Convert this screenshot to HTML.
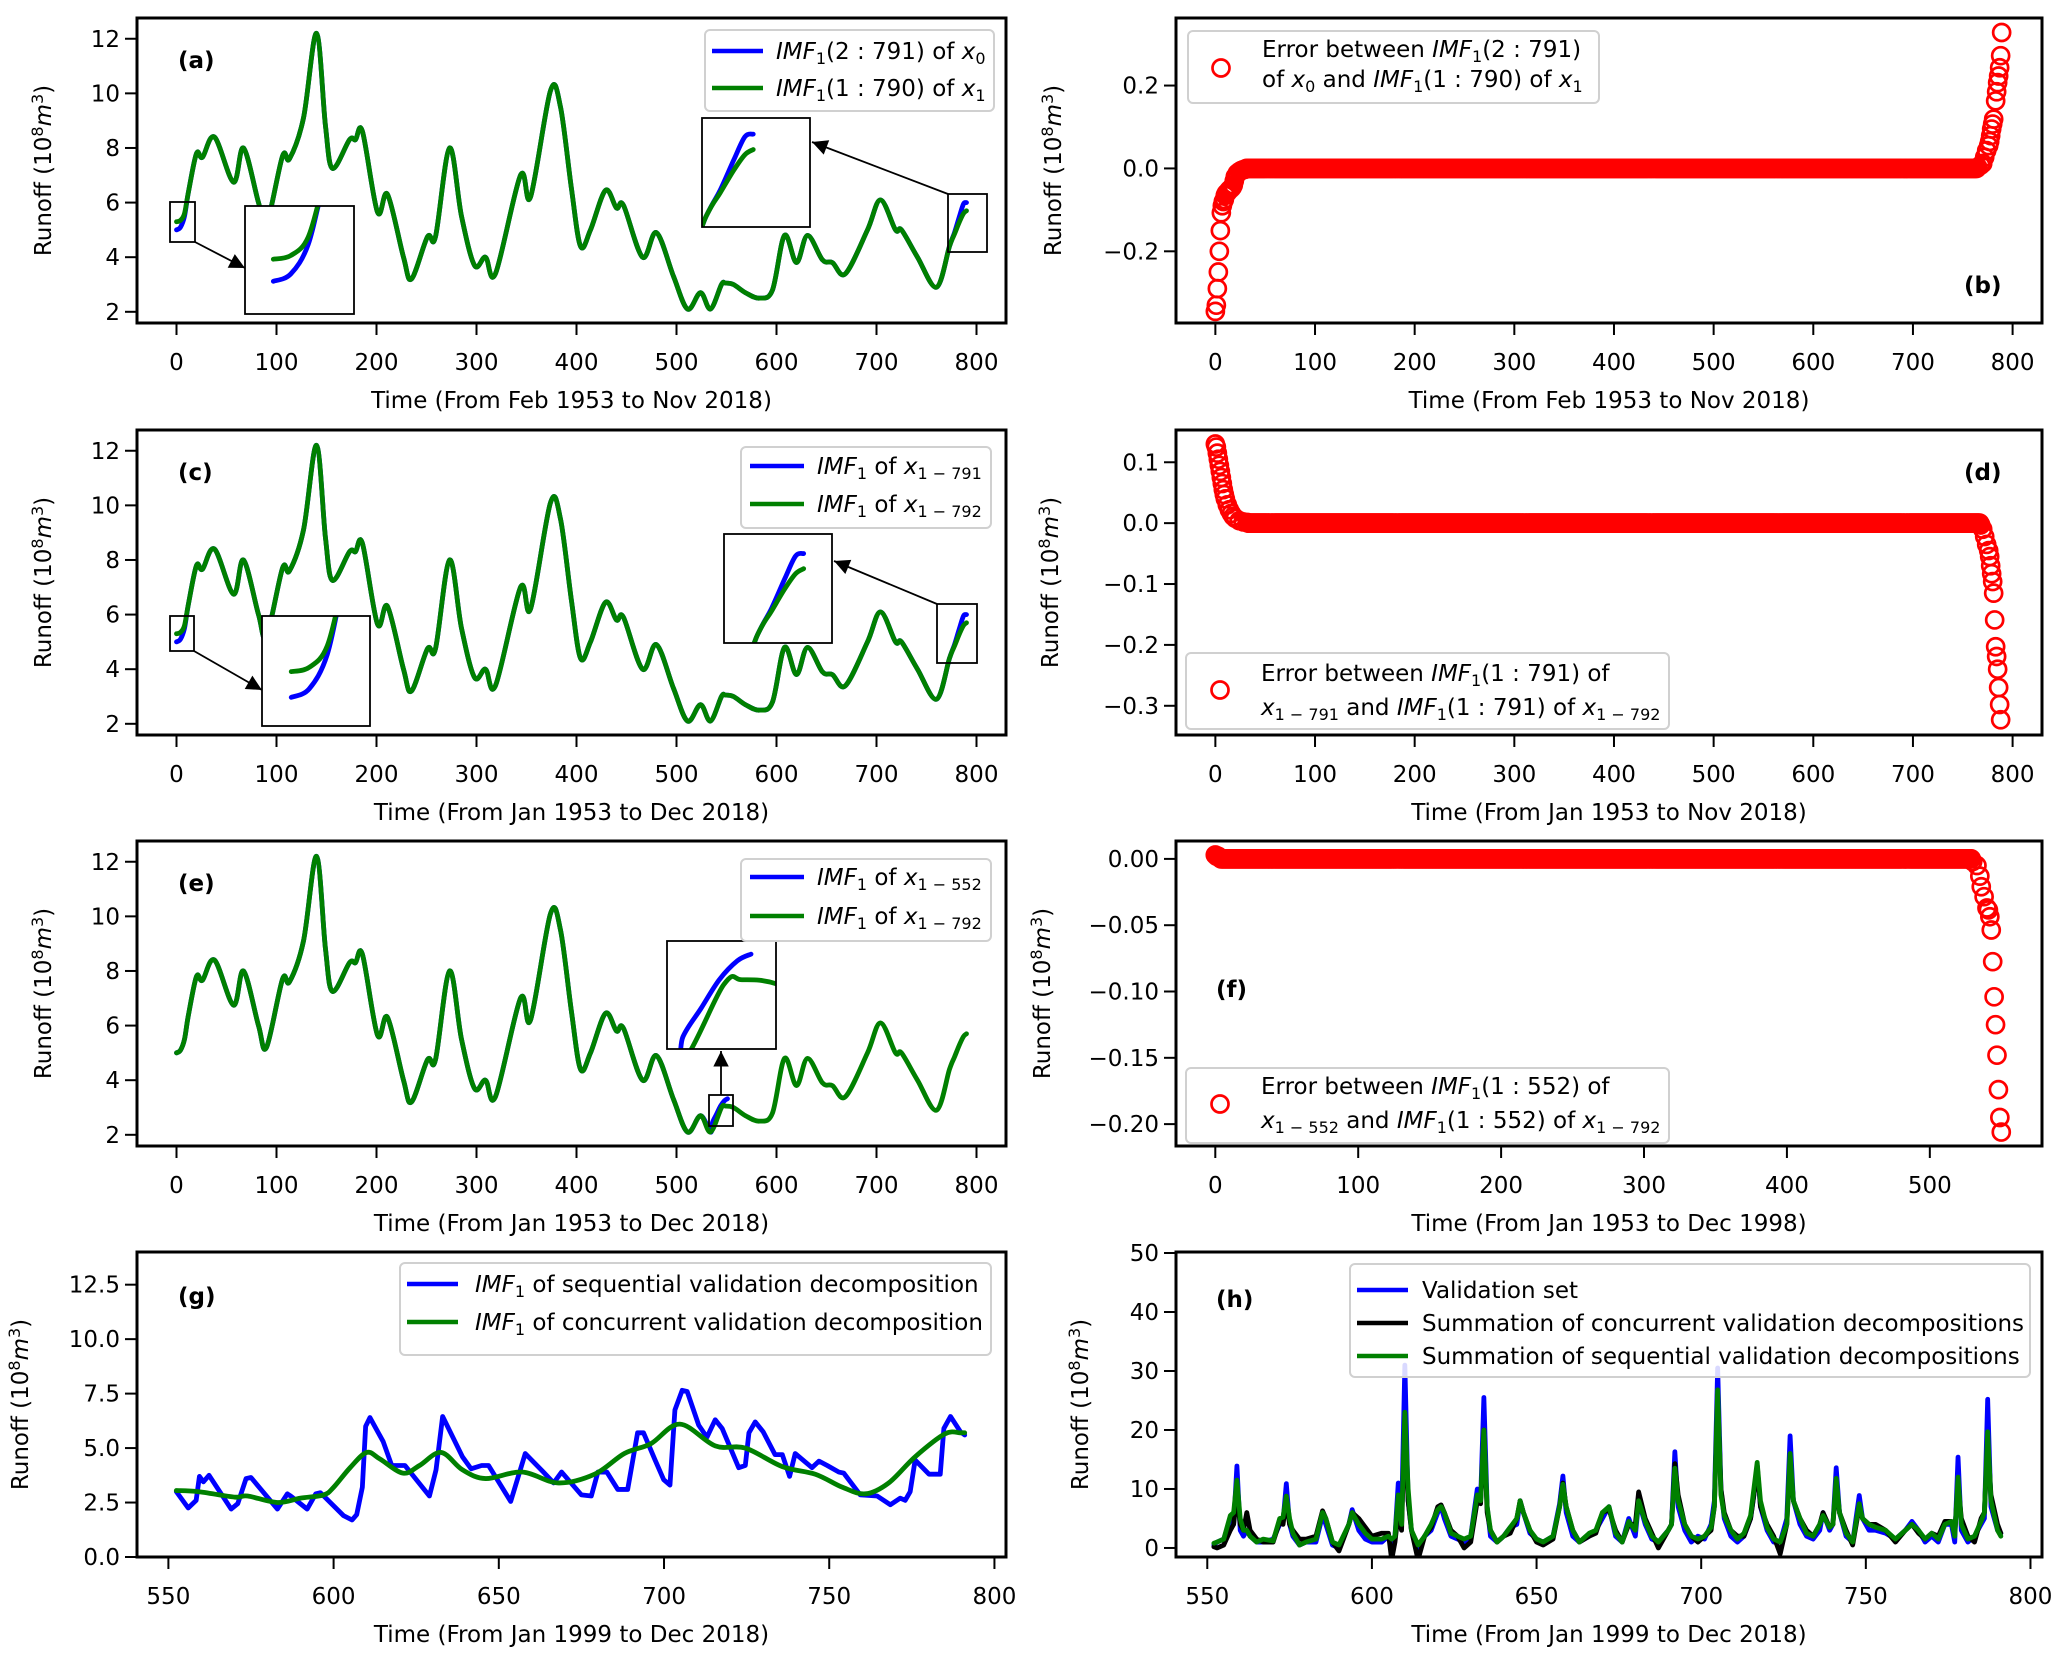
<!DOCTYPE html>
<html><head><meta charset="utf-8"><title>IMF decomposition comparison</title>
<style>
html,body{margin:0;padding:0;background:#fff;}
svg{display:block;font-family:"DejaVu Sans","Liberation Sans",sans-serif;}
.tk{font-size:23px;fill:#000;}
.lg{font-size:23px;fill:#000;}
.it{font-style:italic;}
.tag{font-size:23px;font-weight:bold;fill:#000;}
</style></head>
<body>
<svg id="fig" width="2067" height="1661" viewBox="0 0 2067 1661" xmlns="http://www.w3.org/2000/svg">
<defs>
<marker id="ah" viewBox="0 0 10 10" refX="10" refY="5" markerWidth="7" markerHeight="7" orient="auto-start-reverse" markerUnits="userSpaceOnUse" style="overflow:visible">
<path d="M0,0 L10,5 L0,10 z" fill="#000" transform="scale(2.2) translate(-5.5,-2.7)"/>
</marker>
</defs>
<g id="plots"></g>
<g id="overlay">
<line x1="195" y1="242" x2="245" y2="268" stroke="#000" stroke-width="1.8" marker-end="url(#ah)"/>
<line x1="948" y1="194" x2="812" y2="142" stroke="#000" stroke-width="1.8" marker-end="url(#ah)"/>
<line x1="194" y1="651" x2="262" y2="690" stroke="#000" stroke-width="1.8" marker-end="url(#ah)"/>
<line x1="937" y1="604" x2="834" y2="561" stroke="#000" stroke-width="1.8" marker-end="url(#ah)"/>
<line x1="721" y1="1095" x2="721" y2="1051" stroke="#000" stroke-width="1.8" marker-end="url(#ah)"/>

<g>
<rect x="705" y="30" width="289" height="81" rx="5" fill="#fff" fill-opacity="0.85" stroke="#d0d0d0" stroke-width="2"/>
<line x1="712" y1="51" x2="763" y2="51" stroke="#0000ff" stroke-width="4.5"/>
<line x1="712" y1="88" x2="763" y2="88" stroke="#008000" stroke-width="4.5"/>
<text class="lg" x="776" y="59"><tspan class="it">IMF</tspan><tspan dy="5" font-size="16">1</tspan><tspan dy="-5">(2 : 791) of </tspan><tspan class="it">x</tspan><tspan dy="5" font-size="16">0</tspan></text>
<text class="lg" x="776" y="96"><tspan class="it">IMF</tspan><tspan dy="5" font-size="16">1</tspan><tspan dy="-5">(1 : 790) of </tspan><tspan class="it">x</tspan><tspan dy="5" font-size="16">1</tspan></text>
</g>
<g>
<rect x="1188" y="31" width="411" height="72" rx="5" fill="#fff" fill-opacity="0.85" stroke="#d0d0d0" stroke-width="2"/>
<circle cx="1221" cy="68" r="8.5" fill="none" stroke="#ff0000" stroke-width="2.7"/>
<text class="lg" x="1262" y="57">Error between  <tspan class="it">IMF</tspan><tspan dy="5" font-size="16">1</tspan><tspan dy="-5">(2 : 791)</tspan></text>
<text class="lg" x="1262" y="87">of <tspan class="it">x</tspan><tspan dy="5" font-size="16">0</tspan><tspan dy="-5"> and  </tspan><tspan class="it">IMF</tspan><tspan dy="5" font-size="16">1</tspan><tspan dy="-5">(1 : 790) of </tspan><tspan class="it">x</tspan><tspan dy="5" font-size="16">1</tspan></text>
</g>
<g>
<rect x="741" y="447" width="250" height="81" rx="5" fill="#fff" fill-opacity="0.85" stroke="#d0d0d0" stroke-width="2"/>
<line x1="750" y1="466" x2="804" y2="466" stroke="#0000ff" stroke-width="4.5"/>
<line x1="750" y1="504" x2="804" y2="504" stroke="#008000" stroke-width="4.5"/>
<text class="lg" x="817" y="474"><tspan class="it">IMF</tspan><tspan dy="5" font-size="16">1</tspan><tspan dy="-5"> of </tspan><tspan class="it">x</tspan><tspan dy="5" font-size="16">1 − 791</tspan></text>
<text class="lg" x="817" y="512"><tspan class="it">IMF</tspan><tspan dy="5" font-size="16">1</tspan><tspan dy="-5"> of </tspan><tspan class="it">x</tspan><tspan dy="5" font-size="16">1 − 792</tspan></text>
</g>
<g>
<rect x="1186" y="653" width="483" height="76" rx="5" fill="#fff" fill-opacity="0.85" stroke="#d0d0d0" stroke-width="2"/>
<circle cx="1220" cy="690" r="8.5" fill="none" stroke="#ff0000" stroke-width="2.7"/>
<text class="lg" x="1261" y="681">Error between  <tspan class="it">IMF</tspan><tspan dy="5" font-size="16">1</tspan><tspan dy="-5">(1 : 791) of</tspan></text>
<text class="lg" x="1261" y="715"><tspan class="it">x</tspan><tspan dy="5" font-size="16">1 − 791</tspan><tspan dy="-5"> and  </tspan><tspan class="it">IMF</tspan><tspan dy="5" font-size="16">1</tspan><tspan dy="-5">(1 : 791) of </tspan><tspan class="it">x</tspan><tspan dy="5" font-size="16">1 − 792</tspan></text>
</g>
<g>
<rect x="741" y="859" width="250" height="82" rx="5" fill="#fff" fill-opacity="0.85" stroke="#d0d0d0" stroke-width="2"/>
<line x1="750" y1="877" x2="804" y2="877" stroke="#0000ff" stroke-width="4.5"/>
<line x1="750" y1="916" x2="804" y2="916" stroke="#008000" stroke-width="4.5"/>
<text class="lg" x="817" y="885"><tspan class="it">IMF</tspan><tspan dy="5" font-size="16">1</tspan><tspan dy="-5"> of </tspan><tspan class="it">x</tspan><tspan dy="5" font-size="16">1 − 552</tspan></text>
<text class="lg" x="817" y="924"><tspan class="it">IMF</tspan><tspan dy="5" font-size="16">1</tspan><tspan dy="-5"> of </tspan><tspan class="it">x</tspan><tspan dy="5" font-size="16">1 − 792</tspan></text>
</g>
<g>
<rect x="1186" y="1068" width="483" height="75" rx="5" fill="#fff" fill-opacity="0.85" stroke="#d0d0d0" stroke-width="2"/>
<circle cx="1220" cy="1104" r="8.5" fill="none" stroke="#ff0000" stroke-width="2.7"/>
<text class="lg" x="1261" y="1094">Error between  <tspan class="it">IMF</tspan><tspan dy="5" font-size="16">1</tspan><tspan dy="-5">(1 : 552) of</tspan></text>
<text class="lg" x="1261" y="1128"><tspan class="it">x</tspan><tspan dy="5" font-size="16">1 − 552</tspan><tspan dy="-5"> and  </tspan><tspan class="it">IMF</tspan><tspan dy="5" font-size="16">1</tspan><tspan dy="-5">(1 : 552) of </tspan><tspan class="it">x</tspan><tspan dy="5" font-size="16">1 − 792</tspan></text>
</g>
<g>
<rect x="400" y="1263" width="591" height="92" rx="5" fill="#fff" fill-opacity="0.85" stroke="#d0d0d0" stroke-width="2"/>
<line x1="407" y1="1284" x2="458" y2="1284" stroke="#0000ff" stroke-width="4.5"/>
<line x1="407" y1="1322" x2="458" y2="1322" stroke="#008000" stroke-width="4.5"/>
<text class="lg" x="475" y="1292"><tspan class="it">IMF</tspan><tspan dy="5" font-size="16">1</tspan><tspan dy="-5"> of sequential validation decomposition</tspan></text>
<text class="lg" x="475" y="1330"><tspan class="it">IMF</tspan><tspan dy="5" font-size="16">1</tspan><tspan dy="-5"> of concurrent validation decomposition</tspan></text>
</g>
<g>
<rect x="1350" y="1264" width="680" height="113" rx="5" fill="#fff" fill-opacity="0.85" stroke="#d0d0d0" stroke-width="2"/>
<line x1="1357" y1="1290" x2="1408" y2="1290" stroke="#0000ff" stroke-width="4.5"/>
<line x1="1357" y1="1323" x2="1408" y2="1323" stroke="#000" stroke-width="4.5"/>
<line x1="1357" y1="1356" x2="1408" y2="1356" stroke="#008000" stroke-width="4.5"/>
<text class="lg" x="1422" y="1298">Validation set</text>
<text class="lg" x="1422" y="1331">Summation of concurrent validation decompositions</text>
<text class="lg" x="1422" y="1364">Summation of sequential validation decompositions</text>
</g>
</g>
</svg>
<script>
// ---------------- data ----------------
const mainT = [12,20,26,38,57,67,82,90,106,113,127,140,149,156,173,179,186,201,211,227,235,251,259,273,285,298,309,319,344,354,374,384,395,404,414,429,440,447,466,480,497,511,524,534,545,549,557,569,583,596,608,620,631,646,656,669,691,704,719,725,741,760,773];
const mainV = [6.4,7.8,7.66,8.4,6.75,8.0,6.0,5.2,7.7,7.6,9.1,12.2,8.8,7.25,8.3,8.3,8.6,5.65,6.3,4.0,3.2,4.75,4.75,8.0,5.5,3.7,4.0,3.4,7.0,6.2,10.1,9.5,6.5,4.4,5.0,6.45,5.8,5.9,4.0,4.9,3.3,2.1,2.7,2.1,3.0,3.05,3.0,2.7,2.5,2.8,4.8,3.8,4.8,3.9,3.8,3.4,5.0,6.1,5.0,5.0,4.0,2.9,4.4];
const headT = [0,4,8];
const blueHeadV = [5.0,5.1,5.5];
const greenHeadV = [5.3,5.35,5.6];
const tailT = [778,783,787,790];
const blueTailV = [4.9,5.5,5.95,6.0];
const greenTailV = [4.85,5.3,5.6,5.7];
const eBlueTailT = [536,540,544,548,551];
const eBlueTailV = [2.45,2.75,3.05,3.25,3.32];

const gBlueT = [552.4,556,558.4,559.4,560.6,562.3,569,571,573.5,575,583,586,587,592,594.6,596,603,605.6,607,608.7,609.7,611,615,617.6,621.6,629,631,633,639,641.6,644.8,646.9,653.6,658,663.5,666.6,669,675,678,680,682.7,686,689,692,693.8,697.3,699.9,701.8,703.3,705.5,707,710.5,713,715.5,717.6,722.6,724.6,725.7,727.6,730,733.6,735.8,738,739.7,744.8,746.9,749.4,752.9,754.4,759.4,764.5,768.5,771.5,773,774.5,776,780.2,783.6,784.7,786.7,789.7,791];
const gBlueV = [3.0,2.25,2.6,3.7,3.45,3.75,2.2,2.45,3.6,3.65,2.2,2.9,2.8,2.2,2.9,2.95,1.9,1.7,1.95,3.2,6.0,6.4,5.3,4.2,4.2,2.8,4.0,6.45,4.6,4.05,4.2,4.2,2.55,4.75,3.9,3.4,3.9,2.85,2.8,3.9,3.9,3.1,3.1,5.7,5.7,4.45,3.55,3.3,6.75,7.65,7.6,6.05,5.5,6.3,5.9,4.1,4.2,5.7,6.2,5.75,4.7,4.7,3.7,4.75,4.1,4.4,4.2,3.9,3.85,2.85,2.8,2.4,2.7,2.6,3.0,4.45,3.8,3.8,5.9,6.45,5.75,5.6];
const gGreenT = [552.4,559,570,574,583,590,597,600,605,610,614,621,626,632.5,639,646,657,668,679,688,696,704.8,715.5,724.6,735.8,745.8,754,761,768,776,785,789.7,791];
const gGreenV = [3.05,3.0,2.75,2.8,2.5,2.7,2.85,3.2,4.1,4.8,4.5,3.85,4.2,4.8,4.0,3.6,3.9,3.4,3.8,4.75,5.2,6.1,5.1,5.0,4.15,3.8,3.2,2.9,3.4,4.6,5.65,5.7,5.7];

const hT = [552,553,555,557,558,559,560,561,562,563,565,567,570,572,573,574,575,576,578,580,583,585,586,588,590,593,594,596,598,600,603,605,606,607,608,609,610,611,612,614,616,618,620,621,622,624,626,628,630,632,633,634,635,636,638,640,642,644,645,646,648,650,652,655,657,658,659,661,663,666,668,670,672,674,676,678,680,681,683,685,687,690,691,692,693,695,697,699,701,703,704,705,706,707,709,711,713,715,716,717,718,720,722,724,726,727,728,730,732,734,736,737,739,740,741,742,744,746,748,749,751,753,756,759,762,764,766,768,770,772,774,776,777,778,779,781,783,785,786,787,788,790,791];
const hBlue = [0.5,1,1.5,5,4,13.9,3,2,3,2,1,1,1.5,4,4.5,10.9,4,2,0.5,1,1,5.5,4,0.5,0,4,6.5,3,1.5,1,1,2,1,2,11,5,31,8,3,0,2,3,6,7,5,2,1.5,1,2,10,8,25.5,7,2,1,2,3.5,4,8,6,2.5,1.5,1,2,7.5,12.2,6,2,1,2,3,5,7,2,1,5,2,8,4,1.5,1,3,4,16.3,7,3,1,2,1.5,4,8,30.5,10,5,2,1,2,5,9,14,7,3,1,1,5,19,8,4,2,1.5,3,6,3,4,13.6,6,2,1,8.9,5,3,3,2.5,1.5,3,4.5,3,1,2,1,4,4,1,15.4,3,1,2,4,5,25.2,7,3,2.5];
const hBlack = [0.2,0,0.5,3,4,9,4,3,6,3,1.5,1,1,4.5,4,8,4,3,1.5,1.5,2,6.3,5,1,-0.5,4,6,5,3.5,2,2.5,2.5,-2,1,6,3,22,8,3,-2,2,3.5,7,7.3,6,3,2,0,1,8,7.5,20,6,3,1,2,2.5,5,8,6,3,1,0.5,1.5,7,11,7,3,1,2,2.5,6,6.5,3,1,4,4,9.5,5,2.5,0,3,4,14.3,9,4,2,1,2,3,7,26,10,6,3,2,2,5,9,14,7,4,2,-1,4,15,8,5,3,2,4,6,3.5,4,11,6,3,0.5,7,5,4,4,3,1,3,4,2.5,1.5,2.5,2,4.5,4.5,2.5,11,5,2,1,5,6,18,9,4,2.5];
const hGreen = [0.8,1,1.5,5.5,6,11.5,5,3,3,2,1,1.5,1.2,5,5.2,8.8,5,2.5,0.5,1,1.5,6,5,1,0.5,4,6,4,2.5,1.5,1.5,2,1.5,2,9,4,23,10,3,0.5,2,4,6.5,7,6,2.5,2,1.5,2,9,8,20,7,3,1,2,3.5,5,8,6,3,1.5,1,2,7,10.8,7,3,1,2.5,3,6,7,2.5,1,4.5,3,8,4.5,2,1,3,4,13.5,8,4,2,1.5,2,3.5,7,26.8,9,5.5,3,1.5,2.5,5.5,10,14.5,8,3.5,1.5,1,4,16,8,5,2.5,2,4,5.5,3.5,4,11.8,6,2.5,1,7.5,5,4,3.5,3,1.5,3,4,3,1.5,2.5,1.5,4,4.5,2,12,4,1.5,2,4.5,6,19.7,8,3,2];

const errBHeadT = [0,1,2,3,4,5,6,7,8,9,10,11,12,13,14,15,16,17,18,19,20,22,24,26,28,30];
const errBHeadV = [-0.345,-0.33,-0.29,-0.25,-0.20,-0.15,-0.107,-0.09,-0.08,-0.075,-0.065,-0.06,-0.058,-0.055,-0.052,-0.05,-0.048,-0.045,-0.04,-0.03,-0.02,-0.012,-0.008,-0.005,-0.003,-0.002];
const errBTailT = [765,768,770,772,774,776,777,778,779,780,781,783,784,785,786,787,788,789];
const errBTailV = [0.003,0.008,0.012,0.027,0.043,0.055,0.065,0.079,0.095,0.107,0.119,0.163,0.185,0.207,0.223,0.243,0.272,0.328];
const errBFlat = 0.0;
const errBFlatRange = [31,764];

const errDHeadT = [0,1,2,3,4,5,6,7,8,9,10,12,14,16,18,20,24,28,32];
const errDHeadV = [0.13,0.125,0.115,0.105,0.095,0.085,0.075,0.065,0.055,0.047,0.04,0.03,0.022,0.016,0.011,0.008,0.004,0.002,0.001];
const errDTailT = [768,770,772,774,776,777,778,779,780,781,782,783,784,785,786,787,788];
const errDTailV = [-0.003,-0.01,-0.022,-0.035,-0.045,-0.055,-0.07,-0.083,-0.096,-0.115,-0.159,-0.203,-0.219,-0.24,-0.27,-0.298,-0.323];
const errDFlat = 0.0;
const errDFlatRange = [33,767];

const errFHeadT = [0,1,2,3];
const errFHeadV = [0.003,0.002,0.002,0.001];
const errFTailT = [530,533,535,536,538,540,541,542,543,544,545,546,547,548,549,550];
const errFTailV = [-0.002,-0.005,-0.013,-0.021,-0.0285,-0.037,-0.0385,-0.0436,-0.0536,-0.0775,-0.104,-0.125,-0.148,-0.174,-0.195,-0.206];
const errFFlat = 0.0;
const errFFlatRange = [4,529];

const ticksMainX = [0,100,200,300,400,500,600,700,800];
const ticksMainY = [2,4,6,8,10,12];
const ticksBY = [-0.2,0.0,0.2];
const ticksDY = [-0.3,-0.2,-0.1,0.0,0.1];
const ticksFX = [0,100,200,300,400,500];
const ticksFY = [-0.20,-0.15,-0.10,-0.05,0.00];
const ticksGX = [550,600,650,700,750,800];
const ticksGY = [0,2.5,5,7.5,10,12.5];
const ticksHY = [0,10,20,30,40,50];

// ---------------- drawing ----------------
const NS = 'http://www.w3.org/2000/svg';
const plots = document.getElementById('plots');
function mk(tag, parent){ const e = document.createElementNS(NS, tag); parent.appendChild(e); return e; }
function setA(e, o){ for (const k in o) e.setAttribute(k, o[k]); return e; }
function fmt(v, d){ return (v < 0 ? '\u2212' : '') + Math.abs(v).toFixed(d); }

const LEFT = {x:137, w:869}, RIGHT = {x:1176, w:866};
const ROWS = [18, 430, 841, 1252], PH = 305;
let clipN = 0;

function axes(name, col, row, xlim, ylim) {
  const bx = col.x, bw = col.w, by = ROWS[row], bh = PH;
  const g = mk('g', plots);
  
  
  const sx = v => bx + (v - xlim[0]) / (xlim[1] - xlim[0]) * bw;
  const sy = v => by + bh - (v - ylim[0]) / (ylim[1] - ylim[0]) * bh;
  const cid = 'clip' + (clipN++);
  const cp = mk('clipPath', g); cp.setAttribute('id', cid);
  setA(mk('rect', cp), {x:bx, y:by, width:bw, height:bh});
  const data = mk('g', g); data.setAttribute('clip-path', 'url(#' + cid + ')');
  return {g, data, sx, sy, bx, bw, by, bh, xlim, ylim};
}

function frame(A, xt, xd, yt, yd, xlabel, ylabelX, tag, tagX, tagY) {
  const f = mk('rect', A.g);
  setA(f, {x:A.bx, y:A.by, width:A.bw, height:A.bh, fill:'none', stroke:'#000', 'stroke-width':3});
  
  
  xt.forEach(v => {
    const x = A.sx(v);
    setA(mk('line', A.g), {x1:x, x2:x, y1:A.by + A.bh, y2:A.by + A.bh + 12, stroke:'#000', 'stroke-width':2});
    const t = mk('text', A.g);
    setA(t, {x:x, y:A.by + A.bh + 47, 'text-anchor':'middle', class:'tk'});
    t.textContent = fmt(v, xd);
    
    
  });
  yt.forEach(v => {
    const y = A.sy(v);
    setA(mk('line', A.g), {x1:A.bx - 12, x2:A.bx, y1:y, y2:y, stroke:'#000', 'stroke-width':2});
    const t = mk('text', A.g);
    setA(t, {x:A.bx - 17, y:y + 8, 'text-anchor':'end', class:'tk'});
    t.textContent = fmt(v, yd);
    
    
  });
  const xl = mk('text', A.g);
  setA(xl, {x:A.bx + A.bw / 2, y:A.by + A.bh + 85, 'text-anchor':'middle', class:'tk'});
  xl.textContent = xlabel;
  
  
  const yl = mk('text', A.g);
  const cy = A.by + A.bh / 2;
  setA(yl, {x:ylabelX, y:cy, 'text-anchor':'middle', class:'tk', transform:'rotate(-90 ' + ylabelX + ' ' + cy + ')'});
  yl.innerHTML = 'Runoff  (10<tspan dy="-8" font-size="16">8</tspan><tspan dy="8" font-style="italic">m</tspan><tspan dy="-8" font-size="16">3</tspan><tspan dy="8">)</tspan>';
  
  
  const tg = mk('text', A.g);
  setA(tg, {x:tagX, y:tagY, class:'tag'});
  tg.textContent = tag;
  
  
}

function smoothPath(pts) {
  if (pts.length < 2) return '';
  let d = 'M' + pts[0][0].toFixed(2) + ',' + pts[0][1].toFixed(2);
  for (let i = 0; i < pts.length - 1; i++) {
    const p0 = pts[Math.max(0, i - 1)], p1 = pts[i], p2 = pts[i + 1], p3 = pts[Math.min(pts.length - 1, i + 2)];
    const c1 = [p1[0] + (p2[0] - p0[0]) / 6, p1[1] + (p2[1] - p0[1]) / 6];
    const c2 = [p2[0] - (p3[0] - p1[0]) / 6, p2[1] - (p3[1] - p1[1]) / 6];
    d += 'C' + c1[0].toFixed(2) + ',' + c1[1].toFixed(2) + ' ' + c2[0].toFixed(2) + ',' + c2[1].toFixed(2) + ' ' + p2[0].toFixed(2) + ',' + p2[1].toFixed(2);
  }
  return d;
}
function linePath(pts) { return pts.map((p, i) => (i ? 'L' : 'M') + p[0].toFixed(2) + ',' + p[1].toFixed(2)).join(''); }

function series(ts, vs) { return ts.map((t, i) => [t, vs[i]]); }
function mainSeries(headV, tailV, tEnd) {
  let pts = series(headT, headV).concat(series(mainT, mainV));
  if (tailV) pts = pts.concat(series(tailT, tailV));
  if (tEnd !== undefined) pts = pts.filter(p => p[0] < tEnd);
  return pts;
}
function drawCurve(A, parent, pts, color, name, smooth, w) {
  const p = mk('path', parent);
  const px = pts.map(q => [A.sx(q[0]), A.sy(q[1])]);
  setA(p, {d: smooth ? smoothPath(px) : linePath(px), fill:'none', stroke:color, 'stroke-width':w || 4.8, 'stroke-linejoin':'round', 'stroke-linecap':'round', 'vector-effect':'non-scaling-stroke'});
  
  
  return p;
}
function inset(A, src, dst, draws, name) {
  const r = mk('rect', A.g);
  setA(r, {x:src[0], y:src[1], width:src[2], height:src[3], fill:'none', stroke:'#000', 'stroke-width':1.8});
  
  
  const ig = mk('g', A.g);
  
  
  setA(mk('rect', ig), {x:dst[0], y:dst[1], width:dst[2], height:dst[3], fill:'#fff'});
  const cid = 'clip' + (clipN++);
  const cp = mk('clipPath', ig); cp.setAttribute('id', cid);
  setA(mk('rect', cp), {x:src[0], y:src[1], width:src[2], height:src[3]});
  const tg = mk('g', ig);
  const kx = dst[2] / src[2], ky = dst[3] / src[3];
  tg.setAttribute('transform', 'translate(' + dst[0] + ',' + dst[1] + ') scale(' + kx + ',' + ky + ') translate(' + (-src[0]) + ',' + (-src[1]) + ')');
  const cg = mk('g', tg); cg.setAttribute('clip-path', 'url(#' + cid + ')');
  draws.forEach(d => drawCurve(A, cg, d[0], d[1], 'inset-curve', true, 4.8));
  setA(mk('rect', ig), {x:dst[0], y:dst[1], width:dst[2], height:dst[3], fill:'none', stroke:'#000', 'stroke-width':1.8});
}
function scatter(A, pts, name) {
  const sg = mk('g', A.data);
  
  
  pts.forEach(p => {
    const c = mk('circle', sg);
    setA(c, {cx:A.sx(p[0]), cy:A.sy(p[1]), r:8.5, fill:'none', stroke:'#ff0000', 'stroke-width':2.7});
  });
}
function errSeries(hT_, hV, flat, range, tT, tV) {
  let pts = series(hT_, hV);
  for (let t = range[0]; t <= range[1]; t++) pts.push([t, flat]);
  return pts.concat(series(tT, tV));
}

const MX = [-39.5, 829.5], MY = [1.59, 12.76];

let A = axes('panel-a', LEFT, 0, MX, MY);
let aB = mainSeries(blueHeadV, blueTailV), aG = mainSeries(greenHeadV, greenTailV);
drawCurve(A, A.data, aB, '#0000ff', 'series-imf1-x0', true);
drawCurve(A, A.data, aG, '#008000', 'series-imf1-x1', true);
frame(A, ticksMainX, 0, ticksMainY, 0, 'Time (From Feb 1953 to Nov 2018)', 51, '(a)', 178, 68);
inset(A, [170,202,25,40], [245,206,109,108], [[aB,'#0000ff'],[aG,'#008000']], 'inset-a-start');
inset(A, [948,194,39,58], [702,118,108,109], [[aB,'#0000ff'],[aG,'#008000']], 'inset-a-end');

A = axes('panel-b', RIGHT, 0, MX, [-0.373, 0.363]);
scatter(A, errSeries(errBHeadT, errBHeadV, errBFlat, errBFlatRange, errBTailT, errBTailV), 'error-scatter-b');
frame(A, ticksMainX, 0, ticksBY, 1, 'Time (From Feb 1953 to Nov 2018)', 1061, '(b)', 1964, 293);

A = axes('panel-c', LEFT, 1, MX, MY);
let cB = mainSeries(blueHeadV, blueTailV), cG = mainSeries(greenHeadV, greenTailV);
drawCurve(A, A.data, cB, '#0000ff', 'series-imf1-x1-791', true);
drawCurve(A, A.data, cG, '#008000', 'series-imf1-x1-792', true);
frame(A, ticksMainX, 0, ticksMainY, 0, 'Time (From Jan 1953 to Dec 2018)', 51, '(c)', 178, 480);
inset(A, [170,616,24,35], [262,616,108,110], [[cB,'#0000ff'],[cG,'#008000']], 'inset-c-start');
inset(A, [937,604,40,59], [724,534,108,109], [[cB,'#0000ff'],[cG,'#008000']], 'inset-c-end');

A = axes('panel-d', RIGHT, 1, MX, [-0.348, 0.153]);
scatter(A, errSeries(errDHeadT, errDHeadV, errDFlat, errDFlatRange, errDTailT, errDTailV), 'error-scatter-d');
frame(A, ticksMainX, 0, ticksDY, 1, 'Time (From Jan 1953 to Nov 2018)', 1058, '(d)', 1964, 480);

A = axes('panel-e', LEFT, 2, MX, MY);
let eB = mainSeries(blueHeadV, null, 536).concat(series(eBlueTailT, eBlueTailV));
let eG = mainSeries(blueHeadV, greenTailV);
drawCurve(A, A.data, eB, '#0000ff', 'series-imf1-x1-552', true);
drawCurve(A, A.data, eG, '#008000', 'series-imf1-x1-792-e', true);
frame(A, ticksMainX, 0, ticksMainY, 0, 'Time (From Jan 1953 to Dec 2018)', 51, '(e)', 178, 891);
inset(A, [709,1095,24,31], [667,941,109,108], [[eB,'#0000ff'],[eG,'#008000']], 'inset-e');

A = axes('panel-f', RIGHT, 2, [-27.5, 578.5], [-0.2165, 0.0135]);
scatter(A, errSeries(errFHeadT, errFHeadV, errFFlat, errFFlatRange, errFTailT, errFTailV), 'error-scatter-f');
frame(A, ticksFX, 0, ticksFY, 2, 'Time (From Jan 1953 to Dec 1998)', 1050, '(f)', 1216, 997);

A = axes('panel-g', LEFT, 3, [540.5, 803.5], [0, 14]);
drawCurve(A, A.data, series(gBlueT, gBlueV), '#0000ff', 'series-sequential', false);
drawCurve(A, A.data, series(gGreenT, gGreenV), '#008000', 'series-concurrent', true);
frame(A, ticksGX, 0, ticksGY, 1, 'Time (From Jan 1999 to Dec 2018)', 28, '(g)', 178, 1304);

A = axes('panel-h', RIGHT, 3, [540.5, 803.5], [-1.53, 50.17]);
drawCurve(A, A.data, series(hT, hBlue), '#0000ff', 'series-validation-set', false, 4.8);
drawCurve(A, A.data, series(hT, hBlack), '#000000', 'series-concurrent-sum', false, 4.8);
drawCurve(A, A.data, series(hT, hGreen), '#008000', 'series-sequential-sum', false, 4.8);
frame(A, ticksGX, 0, ticksHY, 0, 'Time (From Jan 1999 to Dec 2018)', 1088, '(h)', 1216, 1307);
</script>
</body></html>
